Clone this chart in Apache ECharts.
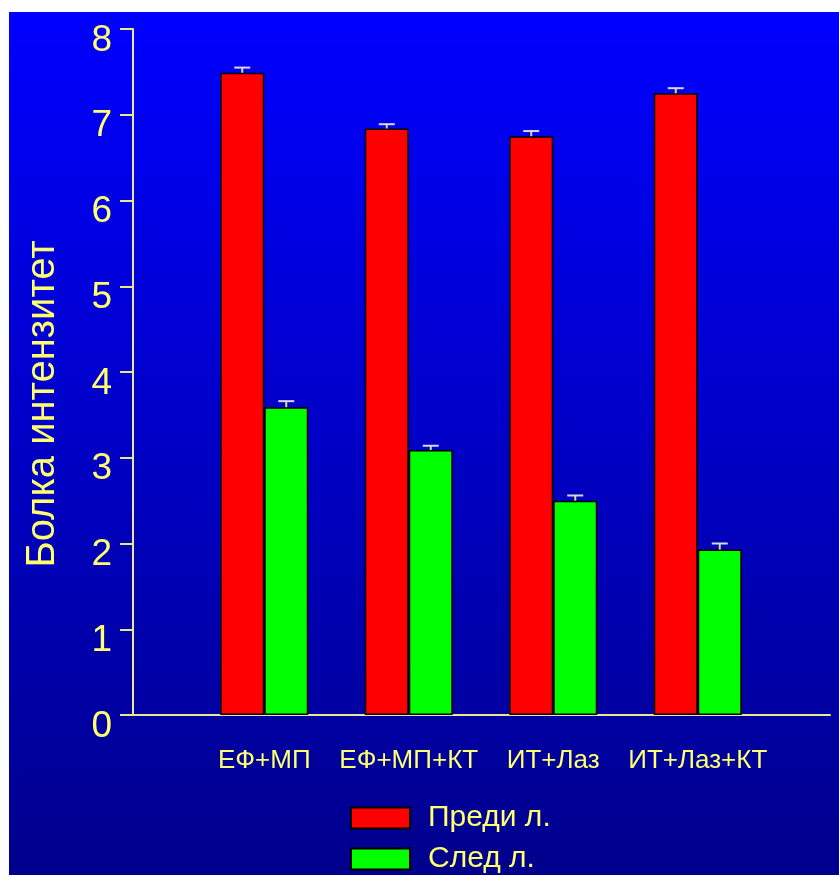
<!DOCTYPE html>
<html>
<head>
<meta charset="utf-8">
<script src="https://cdn.jsdelivr.net/npm/echarts@6/dist/echarts.min.js"></script>
<style>
  html, body { margin: 0; padding: 0; background: #ffffff; }
  #chart { position: absolute; left: 9px; top: 12px; width: 830px; height: 863px; }
</style>
</head>
<body>
<div id="chart"></div>
<script>
// данни
const categories = ['ЕФ+МП', 'ЕФ+МП+КТ', 'ИТ+Лаз', 'ИТ+Лаз+КТ']
const seriesNames = ['Преди л.', 'След л.']
const before = [7.49, 6.84, 6.75, 7.25]
const beforeErr = [0.06, 0.05, 0.06, 0.06]
const after = [3.59, 3.09, 2.50, 1.93]
const afterErr = [0.07, 0.05, 0.06, 0.07]
const yTicks = [0, 1, 2, 3, 4, 5, 6, 7, 8]

const font = "'Liberation Sans', Arial, sans-serif"
const yellow = '#ffff70'
const barW = 44

function errData(vals, errs) {
  return vals.map((v, i) => [i, v, v + errs[i]])
}

function errRender(offset) {
  return function (params, api) {
    const base = api.coord([api.value(0), api.value(1)])
    const top = api.coord([api.value(0), api.value(2)])
    const x = base[0] + offset
    return {
      type: 'group',
      children: [
        { type: 'line', shape: { x1: x, y1: base[1], x2: x, y2: top[1] }, style: { stroke: '#e0e060', lineWidth: 2 } },
        { type: 'line', shape: { x1: x - 8, y1: top[1], x2: x + 8, y2: top[1] }, style: { stroke: '#d8d8e8', lineWidth: 2 } }
      ]
    }
  }
}

function legendItem(name, top) {
  return {
    left: 336,
    top: top,
    itemWidth: 59,
    itemHeight: 21,
    icon: 'rect',
    data: [name],
    textStyle: { color: yellow, fontSize: 30, fontFamily: font, padding: [0, 0, 0, 13] }
  }
}

const myChart = echarts.init(document.getElementById('chart'))
const option = {
  animation: false,
  backgroundColor: new echarts.graphic.LinearGradient(0, 0, 0, 1, [
    { offset: 0, color: '#0000ff' },
    { offset: 1, color: '#00008c' }
  ]),
  textStyle: { fontFamily: font },
  legend: [legendItem(seriesNames[0], 786), legendItem(seriesNames[1], 827)],
  grid: [
    { left: 124, right: 9, top: 17, bottom: 160 },
    { left: 183, right: 69, top: 17, bottom: 160 }
  ],
  xAxis: [
    {
      gridIndex: 0, type: 'value', min: 0, max: 1,
      axisLine: { show: true, lineStyle: { color: '#e8e890', width: 2 } },
      axisTick: { show: false }, axisLabel: { show: false }, splitLine: { show: false }
    },
    {
      gridIndex: 1, type: 'category', data: categories,
      axisLine: { show: false }, axisTick: { show: false }, splitLine: { show: false },
      axisLabel: { color: yellow, fontSize: 26, fontFamily: font, margin: 33, interval: 0 }
    }
  ],
  yAxis: [
    {
      gridIndex: 0, type: 'value', min: 0, max: 8, interval: 1,
      name: 'Болка интензитет', nameLocation: 'middle', nameRotate: 90, nameGap: 70,
      nameTextStyle: { color: yellow, fontSize: 40, fontFamily: font, padding: [0, 64, 0, 0] },
      axisLine: { show: true, lineStyle: { color: '#e8e890', width: 2 } },
      axisTick: { show: true, length: 13, lineStyle: { color: '#e8e890', width: 2 } },
      axisLabel: {
        margin: 21,
        formatter: v => (yTicks.includes(v) ? '{t|' + v + '}' : ''),
        rich: {
          t: { color: yellow, fontSize: 37, fontFamily: font, padding: [23, 0, 0, 0] }
        }
      },
      splitLine: { show: false }
    },
    {
      gridIndex: 1, type: 'value', min: 0, max: 8, show: false
    }
  ],
  series: [
    {
      name: seriesNames[0], type: 'bar', xAxisIndex: 1, yAxisIndex: 1,
      data: before, barWidth: barW, barGap: '0%',
      itemStyle: { color: '#ff0000', borderColor: '#000000', borderWidth: 1.5 }
    },
    {
      name: seriesNames[1], type: 'bar', xAxisIndex: 1, yAxisIndex: 1,
      data: after, barWidth: barW, barGap: '0%',
      itemStyle: { color: '#00ff00', borderColor: '#000000', borderWidth: 1.5 }
    },
    {
      type: 'custom', xAxisIndex: 1, yAxisIndex: 1, z: 5,
      data: errData(before, beforeErr), renderItem: errRender(-barW / 2)
    },
    {
      type: 'custom', xAxisIndex: 1, yAxisIndex: 1, z: 5,
      data: errData(after, afterErr), renderItem: errRender(barW / 2)
    }
  ]
}
myChart.setOption(option)
</script>
</body>
</html>
